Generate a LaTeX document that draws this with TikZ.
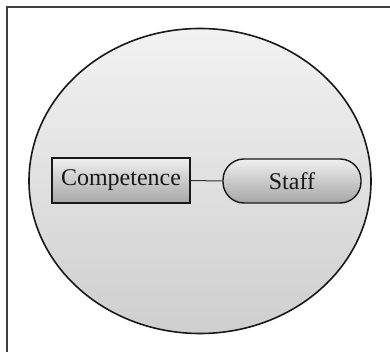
\documentclass[tikz,border=0pt]{standalone}
\usepackage{fontspec}
\setmainfont{Liberation Serif}
\usetikzlibrary{shapes.geometric}
\tikzset{
  boxtext/.style={font=\fontsize{24}{28}\selectfont, text=black!90},
  frameline/.style={draw=black!75, line width=1.8pt},
}
\begin{document}
\begin{tikzpicture}[x=1pt,y=-1pt]
\useasboundingbox (0,0) rectangle (390,352);
\coordinate (fbl) at (7,352);
\coordinate (ftl) at (7,7);
\coordinate (ftr) at (390,7);
\draw[frameline] (fbl) -- (ftl) -- (ftr);
\node[ellipse, minimum width=342pt, minimum height=305pt, draw=black!90, line width=1.6pt,
  top color=black!5, bottom color=black!19, inner sep=0pt] (oval) at (200,181) {};
\node[rectangle, draw=black!90, line width=1.8pt, minimum width=138pt, minimum height=45pt,
  top color=black!6, bottom color=black!35, boxtext, inner sep=0pt] (comp) at (121,180.5) {Competence};
\node[rectangle, rounded corners=21pt, draw=black!90, line width=1.4pt, minimum width=138pt, minimum height=44pt,
  top color=black!6, bottom color=black!35, boxtext, inner sep=0pt] (staff) at (292,181) {Staff};
\draw[black!80, line width=1pt] (comp.east) -- (staff.west);
\end{tikzpicture}
\end{document}
